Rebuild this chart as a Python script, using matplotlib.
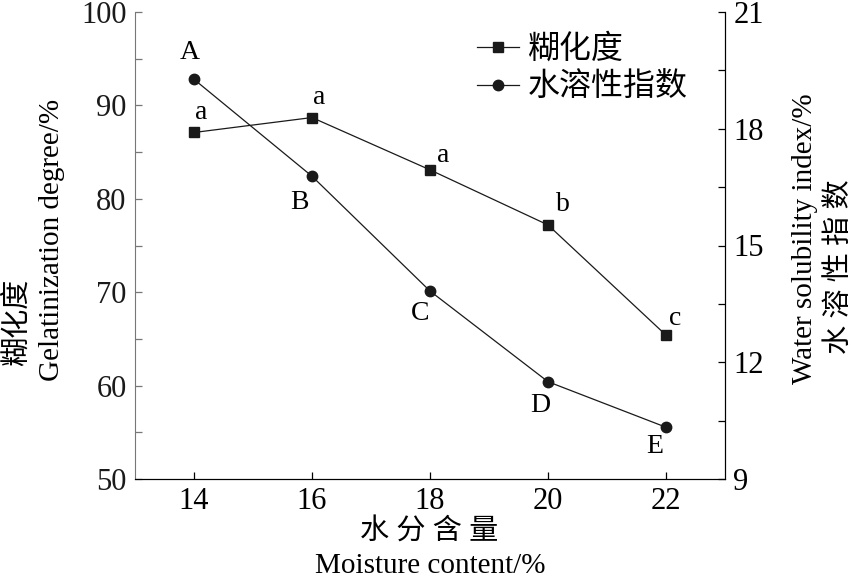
import matplotlib
matplotlib.use('Agg')
import matplotlib.pyplot as plt

# Data
# ------------------------------------------------------------------------

moisture = [14, 16, 18, 20, 22]
gelatinization = [87.1, 88.7, 83.1, 77.2, 65.4]
solubility = [19.27, 16.78, 13.83, 11.50, 10.33]
gel_letters = ['a', 'a', 'a', 'b', 'c']
sol_letters = ['A', 'B', 'C', 'D', 'E']

FONT = ['Liberation Serif', 'Noto Sans CJK SC']
plt.rcParams['font.family'] = FONT
plt.rcParams['font.size'] = 22

# Plot
# ------------------------------------------------------------------------

fig = plt.figure(figsize=(8.58, 5.79), dpi=100)
ax = fig.add_axes([135 / 858, 1 - 479 / 579, 590 / 858, 467 / 579])
ax2 = ax.twinx()

l1, = ax.plot(moisture, gelatinization, color='#1a1a1a', lw=0.9,
              marker='s', markersize=6.5, label='糊化度')
l2, = ax2.plot(moisture, solubility, color='#1a1a1a', lw=0.9,
               marker='o', markersize=7.5, label='水溶性指数')

ax.set_xlim(13, 23)
ax.set_ylim(50, 100)
ax2.set_ylim(9, 21)
ax.set_xticks(moisture)
ax.set_yticks(range(50, 101, 10))
ax.set_yticks(range(55, 100, 10), minor=True)
ax2.set_yticks([9, 12, 15, 18, 21])
ax2.set_yticks([10.5, 13.5, 16.5, 19.5], minor=True)

for a in (ax, ax2):
    a.spines['top'].set_visible(False)
    a.tick_params(which='both', direction='in', length=5, width=0.9, labelsize=22, pad=6)
ax.spines['left'].set_color('#777777')
ax2.spines['left'].set_visible(False)
ax.tick_params(axis='y', which='both', colors='#777777', labelcolor='#1a1a1a')

# point letters
offs_gel = [(7, 20), (7, 20), (13, 14), (15, 20), (9, 17)]
for x, y, t, o in zip(moisture, gelatinization, gel_letters, offs_gel):
    ax.annotate(t, (x, y), xytext=o, textcoords='offset pixels',
                ha='center', va='center', fontsize=20)
offs_sol = [(-4, 27), (-13, -26), (-10, -22), (-8, -24), (-11, -19)]
for x, y, t, o in zip(moisture, solubility, sol_letters, offs_sol):
    ax2.annotate(t, (x, y), xytext=o, textcoords='offset pixels',
                 ha='center', va='center', fontsize=20)

# axis titles
fig.text(17 / 858, 1 - 322 / 579, '糊化度', rotation=90, ha='center', va='center', fontsize=21)
fig.text(52 / 858, 1 - 240 / 579, 'Gelatinization degree/%', rotation=90,
         ha='center', va='center', fontsize=21)
fig.text(805 / 858, 1 - 239 / 579, 'Water solubility index/%', rotation=90,
         ha='center', va='center', fontsize=21)
fig.text(840 / 858, 1 - 267 / 579, '水 溶 性 指 数', rotation=90, ha='center', va='center', fontsize=21)
fig.text(429 / 858, 1 - 531 / 579, '水 分 含 量', ha='center', va='center', fontsize=21)
fig.text(430 / 858, 1 - 566 / 579, 'Moisture content/%', ha='center', va='center', fontsize=21)

fig.legend(handles=[l1, l2], loc='upper left', bbox_to_anchor=(461 / 858, 1 - 18 / 579),
           bbox_transform=fig.transFigure, frameon=False, fontsize=23,
           handlelength=1.3, handletextpad=0.3, borderpad=0, labelspacing=0.25)

fig.savefig('out.png', dpi=100)
